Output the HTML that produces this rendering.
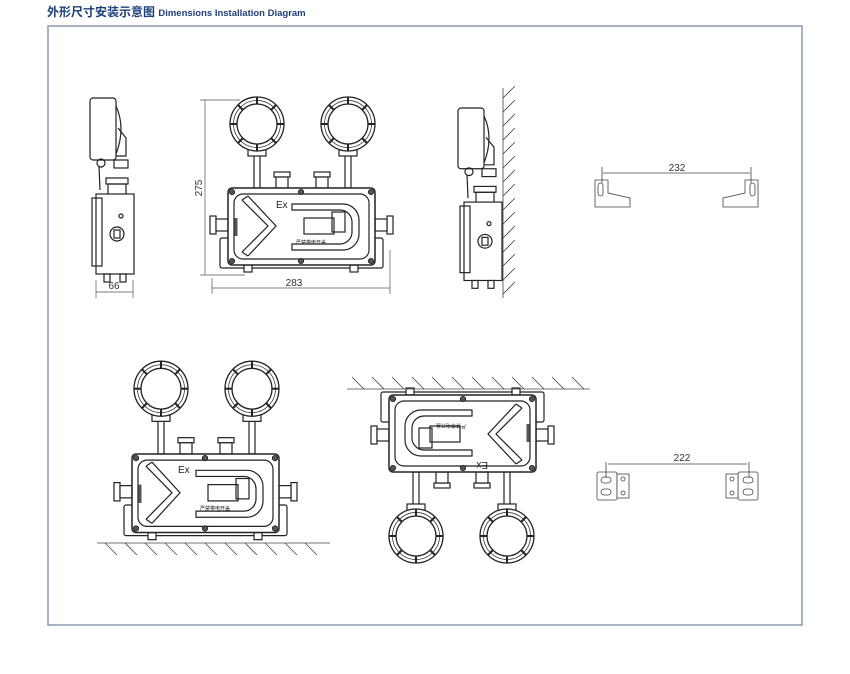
<!DOCTYPE html>
<html><head><meta charset="utf-8"><style>
html,body{margin:0;padding:0;background:#fff;width:850px;height:674px;overflow:hidden}
svg{display:block}
</style></head><body>
<svg width="850" height="674" viewBox="0 0 850 674" xmlns="http://www.w3.org/2000/svg" font-family="Liberation Sans, sans-serif">
<defs>
<g id="lamp" fill="none" stroke="#222" stroke-width="1.3">
  <circle r="27" fill="#fff"/><circle r="20"/><circle r="23.5" stroke-width="0.7"/>
  <g stroke-width="2">
    <line x1="0" y1="-20" x2="0" y2="-27"/><line x1="0" y1="20" x2="0" y2="27"/>
    <line x1="-20" y1="0" x2="-27" y2="0"/><line x1="20" y1="0" x2="27" y2="0"/>
    <line x1="14" y1="14" x2="19" y2="19"/><line x1="-14" y1="14" x2="-19" y2="19"/>
    <line x1="14" y1="-14" x2="19" y2="-19"/><line x1="-14" y1="-14" x2="-19" y2="-19"/>
  </g>
</g>
<g id="unit" fill="none" stroke="#222" stroke-width="1.2">
  <rect x="26" y="-36" width="6" height="36" fill="#fff"/>
  <rect x="117" y="-36" width="6" height="36" fill="#fff"/>
  <rect x="20" y="-40" width="18" height="8" fill="#fff"/>
  <rect x="111" y="-40" width="18" height="8" fill="#fff"/>
  <use href="#lamp" x="29" y="-64"/>
  <use href="#lamp" x="120" y="-64"/>
  <rect x="46" y="-16" width="16" height="5" fill="#fff"/><rect x="48" y="-11" width="12" height="11" fill="#fff"/>
  <rect x="86" y="-16" width="16" height="5" fill="#fff"/><rect x="88" y="-11" width="12" height="11" fill="#fff"/>
  <rect x="-18" y="28" width="6" height="18" fill="#fff"/><rect x="-12" y="31" width="12" height="12" fill="#fff"/>
  <rect x="159" y="28" width="6" height="18" fill="#fff"/><rect x="147" y="31" width="12" height="12" fill="#fff"/>
  <rect x="-8" y="50" width="163" height="30" rx="2" fill="#fff"/>
  <rect x="16" y="77" width="8" height="7" fill="#fff"/><rect x="122" y="77" width="8" height="7" fill="#fff"/>
  <rect x="0" y="0" width="147" height="77" rx="4" fill="#fff" stroke-width="1.5"/>
  <rect x="6" y="6" width="135" height="65" rx="9"/>
  <polyline points="20,8 48,38 20,68"/><polyline points="14,12 40,38 14,64"/>
  <line x1="20" y1="8" x2="14" y2="12"/><line x1="20" y1="68" x2="14" y2="64"/>
  <path d="M64,16 H115 A16,16 0 0 1 131,32 V46 A16,16 0 0 1 115,62 H64 V56 H112 A12,12 0 0 0 124,44 V34 A12,12 0 0 0 112,22 H64 Z"/>
  <rect x="76" y="30" width="30" height="16"/>
  <rect x="104" y="24" width="13" height="20"/>
  <line x1="8" y1="30" x2="8" y2="48" stroke-width="3" stroke="#555"/>
  <g fill="#555" stroke="#111" stroke-width="0.7">
    <circle cx="4" cy="4" r="2.7"/><circle cx="143" cy="4" r="2.7"/><circle cx="4" cy="73" r="2.7"/><circle cx="143" cy="73" r="2.7"/>
    <circle cx="73" cy="4" r="2.7"/><circle cx="73" cy="73" r="2.7"/>
  </g>
</g>
<g id="sideview" fill="none" stroke="#222" stroke-width="1.2">
  <rect x="0" y="0" width="26" height="62" rx="3" fill="#fff"/>
  <path d="M26,8 Q36,30 26,56"/>
  <path d="M28,30 L36,40 V58 H26"/>
  <rect x="24" y="62" width="14" height="8"/>
  <circle cx="11" cy="65" r="4"/>
  <line x1="9" y1="68" x2="10" y2="92"/>
  <rect x="16" y="80" width="22" height="6"/><rect x="18" y="86" width="18" height="12"/>
  <rect x="6" y="96" width="38" height="80" fill="#fff"/>
  <rect x="2" y="100" width="10" height="68"/>
  <circle cx="27" cy="136" r="7"/><rect x="24" y="132" width="6" height="8"/>
  <circle cx="31" cy="118" r="2"/>
  <rect x="14" y="176" width="6" height="8"/><rect x="30" y="176" width="6" height="8"/>
</g>
</defs>

<text x="47" y="16" font-size="12" font-weight="bold" fill="#1d3f7a" font-family="Liberation Sans, Noto Sans CJK SC, sans-serif">外形尺寸安装示意图 <tspan font-size="9.5">Dimensions Installation Diagram</tspan></text>
<rect x="48" y="26" width="754" height="599" fill="none" stroke="#8b98ae" stroke-width="1.5"/>

<use href="#unit" transform="translate(228,188)"/>
<text x="276" y="208" font-size="10" fill="#222">Ex</text>
<text x="296" y="244" font-size="5" fill="#222" font-family="Liberation Sans, Noto Sans CJK SC, sans-serif">严禁带电开盖</text>
<g stroke="#555" stroke-width="0.7" fill="none">
<line x1="205" y1="100" x2="205" y2="275"/><line x1="200" y1="100" x2="240" y2="100"/><line x1="200" y1="275" x2="245" y2="275"/>
<line x1="212" y1="288" x2="390" y2="288"/><line x1="212" y1="278" x2="212" y2="294"/><line x1="390" y1="250" x2="390" y2="294"/>
</g>
<text transform="translate(202,188) rotate(-90)" font-size="10" fill="#333" text-anchor="middle">275</text>
<text x="294" y="286" font-size="10" fill="#333" text-anchor="middle">283</text>

<use href="#sideview" transform="translate(90,98)"/>
<g stroke="#555" stroke-width="0.7"><line x1="96" y1="292" x2="133" y2="292"/><line x1="96" y1="280" x2="96" y2="298"/><line x1="133" y1="280" x2="133" y2="298"/></g>
<text x="114" y="289" font-size="10" fill="#333" text-anchor="middle">66</text>

<use href="#sideview" transform="translate(458,108) scale(1,0.98)"/>
<g stroke="#444" stroke-width="0.8">
<line x1="503" y1="88" x2="503" y2="298"/>
<path d="M503,98 l12,-12 M503,112 l12,-12 M503,126 l12,-12 M503,140 l12,-12 M503,154 l12,-12 M503,168 l12,-12 M503,182 l12,-12 M503,196 l12,-12 M503,210 l12,-12 M503,224 l12,-12 M503,238 l12,-12 M503,252 l12,-12 M503,266 l12,-12 M503,280 l12,-12 M503,294 l12,-12"/>
</g>

<g stroke="#444" stroke-width="0.8" fill="#fff">
<path d="M595,180 H608 V193 L630,198 V207 H595 Z"/><rect x="598" y="183" width="5" height="13" rx="2.5"/>
<path d="M758,180 H745 V193 L723,198 V207 H758 Z"/><rect x="750" y="183" width="5" height="13" rx="2.5"/>
<line x1="603" y1="173" x2="750" y2="173"/><line x1="602" y1="167" x2="602" y2="183"/><line x1="751" y1="167" x2="751" y2="183"/>
</g>
<text x="677" y="171" font-size="10" fill="#333" text-anchor="middle">232</text>

<g stroke="#444" stroke-width="0.8" fill="#fff">
<rect x="597" y="472" width="20" height="28" rx="2"/><rect x="617" y="474" width="12" height="24"/>
<rect x="601" y="477" width="10" height="6" rx="3"/><rect x="601" y="489" width="10" height="6" rx="3"/>
<circle cx="623" cy="479" r="2"/><circle cx="623" cy="493" r="2"/>
<rect x="738" y="472" width="20" height="28" rx="2"/><rect x="726" y="474" width="12" height="24"/>
<rect x="743" y="477" width="10" height="6" rx="3"/><rect x="743" y="489" width="10" height="6" rx="3"/>
<circle cx="732" cy="479" r="2"/><circle cx="732" cy="493" r="2"/>
<line x1="608" y1="464" x2="747" y2="464"/><line x1="606" y1="462" x2="606" y2="478"/><line x1="749" y1="462" x2="749" y2="478"/>
</g>
<text x="682" y="461" font-size="10" fill="#333" text-anchor="middle">222</text>

<use href="#unit" transform="translate(132,454) scale(1,1.02)"/>
<text x="178" y="473" font-size="10" fill="#222">Ex</text>
<text x="200" y="510" font-size="5" fill="#222" font-family="Liberation Sans, Noto Sans CJK SC, sans-serif">严禁带电开盖</text>
<g stroke="#444" stroke-width="0.8">
<line x1="97" y1="543" x2="330" y2="543"/>
<path d="M105,543 l12,12 M125,543 l12,12 M145,543 l12,12 M165,543 l12,12 M185,543 l12,12 M205,543 l12,12 M225,543 l12,12 M245,543 l12,12 M265,543 l12,12 M285,543 l12,12 M305,543 l12,12"/>
</g>

<use href="#unit" transform="translate(536,472) rotate(180)"/>
<text transform="translate(488,462) rotate(180)" font-size="10" fill="#222">Ex</text>
<text transform="translate(466,424) rotate(180)" font-size="5" fill="#222" font-family="Liberation Sans, Noto Sans CJK SC, sans-serif">严禁带电开盖</text>
<g stroke="#444" stroke-width="0.8">
<line x1="347" y1="389" x2="590" y2="389"/>
<path d="M352,377 l12,12 M372,377 l12,12 M392,377 l12,12 M412,377 l12,12 M432,377 l12,12 M452,377 l12,12 M472,377 l12,12 M492,377 l12,12 M512,377 l12,12 M532,377 l12,12 M552,377 l12,12 M572,377 l12,12"/>
</g>
</svg>
</body></html>
